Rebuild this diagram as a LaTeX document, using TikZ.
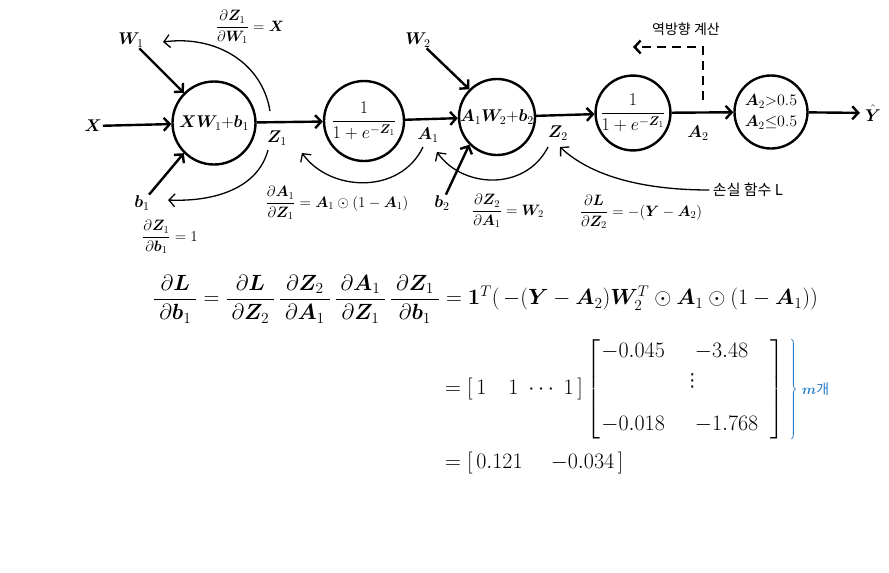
\RequirePackage{fix-cm}
\documentclass[tikz,border=0pt]{standalone}
\usepackage{amsmath}
\usepackage{fontspec}
\usepackage{bm}
\newfontfamily\kr{Noto Sans CJK KR}
\newfontfamily\dejavu{DejaVu Sans}
\usetikzlibrary{arrows.meta,decorations.pathreplacing}
\definecolor{braceblue}{RGB}{40,125,200}
\newcommand{\pd}[2]{\dfrac{\mkern4mu\partial#1\mkern4mu}{\mkern4mu\partial#2\mkern4mu}}

\begin{document}
\begin{tikzpicture}[x=1pt,y=-1pt,
  neuron/.style={circle,draw,line width=2.4pt,minimum size=78pt,inner sep=0pt,font=\fontsize{17}{19}\selectfont},
  lab/.style={font=\fontsize{17}{19}\selectfont,inner sep=1pt},
  deriv/.style={font=\fontsize{15}{17}\selectfont,inner sep=0pt},
  eq/.style={font=\fontsize{22}{26}\selectfont,inner sep=0pt,anchor=west},
  link/.style={line width=2.4pt,-{Straight Barb[length=6pt,width=13pt]}},
  back/.style={line width=1.3pt,-{Straight Barb[length=6pt,width=13pt]}}]

\useasboundingbox (0,0) rectangle (889,573);

\node [neuron,minimum size=83pt] (n1) at (214,123) {$\bm{XW}_1{+}\bm{b}_1$};
\node [neuron,minimum size=80pt,font=\fontsize{18}{20}\selectfont] (n2) at (364,121) {$\dfrac{1}{1+e^{-\bm{Z}_1}}$};
\node [neuron,minimum size=76pt] (n3) at (497,117) {$\bm{A}_1\bm{W}_2{+}\bm{b}_2$};
\node [neuron,minimum size=74pt,font=\fontsize{18}{20}\selectfont] (n4) at (633,113) {$\dfrac{1}{1+e^{-\bm{Z}_1}}$};
\node [neuron,minimum size=73pt,font=\fontsize{16}{21}\selectfont,align=center] (n5) at (771,112) {$\bm{A}_2{>}0.5$\\$\bm{A}_2{\le}0.5$};

\node [lab] (x) at (93,126) {$\bm{X}$};
\node [lab] (w1) at (131,40) {$\bm{W}_1$};
\node [lab] (b1) at (142,203) {$\bm{b}_1$};
\node [lab] (z1) at (277,138) {$\bm{Z}_1$};
\node [lab] (a1) at (428,135) {$\bm{A}_1$};
\node [lab] (w2) at (418,40) {$\bm{W}_2$};
\node [lab] (b2) at (442,203) {$\bm{b}_2$};
\node [lab] (z2) at (558,133) {$\bm{Z}_2$};
\node [lab] (a2) at (698,133) {$\bm{A}_2$};
\node [lab] (y) at (873,113) {$\hat{\bm{Y}}$};

\draw [link] (x) -- (n1);
\draw [link] (w1) -- (n1.135);
\draw [link] (b1) -- (n1.225);
\draw [link] (n1) -- (n2);
\draw [link] (n2) -- (n3);
\draw [link] (w2) -- (n3.135);
\draw [link] (b2) -- (n3.225);
\draw [link] (n3) -- (n4);
\draw [link] (n4) -- (n5);
\draw [link,shorten >=4pt] (n5) -- (y);

\node [deriv] (dzw) at (250,27) {$\dfrac{\partial\bm{Z}_1}{\partial\bm{W}_1}=\bm{X}$};
\node [deriv] (dzb) at (170,237) {$\dfrac{\partial\bm{Z}_1}{\partial\bm{b}_1}=1$};
\node [deriv] (daz) at (337,203) {$\dfrac{\partial\bm{A}_1}{\partial\bm{Z}_1}=\bm{A}_1\odot(1-\bm{A}_1)$};
\node [deriv] (dza) at (508,211) {$\dfrac{\partial\bm{Z}_2}{\partial\bm{A}_1}=\bm{W}_2$};
\node [deriv] (dlz) at (641,212) {$\dfrac{\partial\bm{L}}{\partial\bm{Z}_2}=-(\bm{Y}-\bm{A}_2)$};

\node [font=\kr\fontsize{15}{17}\selectfont] (loss) at (748,190) {손실 함수 L};
\node [font=\kr\fontsize{14}{16}\selectfont] (bwd) at (686,29) {역방향 계산};

\coordinate (s1) at (270,111);
\coordinate (e1) at (163,42);
\coordinate (s2) at (268,150);
\coordinate (e2) at (168,200);
\coordinate (s3) at (423,147);
\coordinate (e3) at (302,153);
\coordinate (s4) at (548,147);
\coordinate (e4) at (437,152);
\coordinate (e5) at (560,147);
\coordinate (d0) at (703,100);
\coordinate (e6) at (633,47);

\draw [back] (s1) .. controls (262,62) and (215,35) .. (e1);
\draw [back] (s2) .. controls (258,188) and (215,202) .. (e2);
\draw [back] (s3) .. controls (400,195) and (330,192) .. (e3);
\draw [back] (s4) .. controls (525,192) and (462,188) .. (e4);
\draw [back] (loss.west) .. controls (640,190) and (590,175) .. (e5);
\draw [link,dash pattern=on 9pt off 6pt] (d0) |- (e6);

\node [eq] (eqa) at (153,299) {$\pd{\bm{L}}{\bm{b}_1}=\pd{\bm{L}}{\bm{Z}_2}\,\pd{\bm{Z}_2}{\bm{A}_1}\,\pd{\bm{A}_1}{\bm{Z}_1}\,\pd{\bm{Z}_1}{\bm{b}_1}=\bm{1}^T(\,-(\bm{Y}-\bm{A}_2)\bm{W}_2^T\odot\bm{A}_1\odot(1-\bm{A}_1))$};
\node [eq] (eqb) at (445,389) {\renewcommand{\arraystretch}{0.6}$=[\,1\quad 1\;\cdots\;1\,]\left[\begin{array}{@{\hspace{1pt}}l@{\hspace{30pt}}l@{\hspace{12pt}}}-0.045 & -3.48\\[12pt] \multicolumn{2}{c}{\hspace{14pt}\text{\dejavu\fontsize{18}{20}\selectfont ⋮}}\\[25pt] -0.018 & -1.768\end{array}\right]$};
\node [eq] (eqc) at (445,463) {$=[\,0.121\quad\; {-0.034}\,]$};

\draw [decorate,decoration={brace,amplitude=4pt},braceblue,line width=0.8pt] ([xshift=7pt]eqb.north east) -- ([xshift=7pt]eqb.south east);
\node [text=braceblue,font=\fontsize{14}{16}\selectfont,anchor=west] (mcnt) at ([xshift=14pt]eqb.east) {$\bm{m}$\kr 개};

\end{tikzpicture}
\end{document}
